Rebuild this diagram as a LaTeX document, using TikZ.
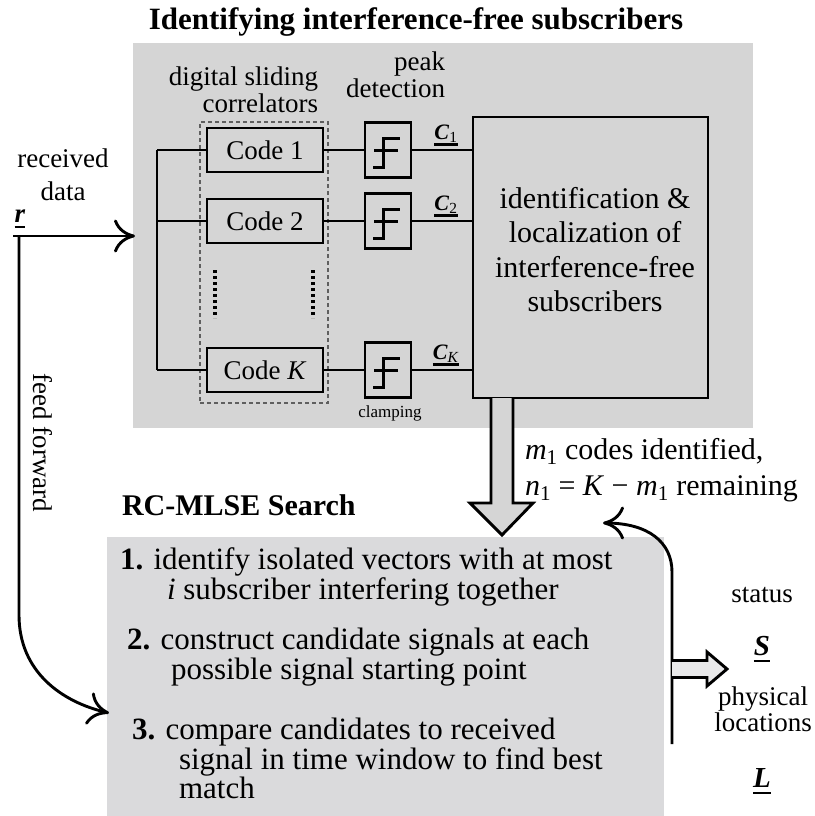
\documentclass[tikz,border=0pt]{standalone}
\usepackage{fontspec}
\setmainfont{Liberation Serif}
\usetikzlibrary{arrows.meta}
\definecolor{bgA}{RGB}{213,213,213}
\definecolor{bgB}{RGB}{218,218,220}
\definecolor{dashc}{RGB}{95,95,95}
\newcommand{\myfs}[2]{\fontsize{#1pt}{#2pt}\selectfont}
\newcommand{\ulbar}[2][-6pt]{\setbox0\hbox{#2}\rlap{\rule[#1]{\wd0}{2.4pt}}\box0}
\tikzset{
  wire/.style={line width=2.9pt},
  barbarrow/.style={-{Computer Modern Rightarrow[length=21pt,width=33pt,line width=2.9pt]}},
  codebox/.style={draw, line width=2.9pt, minimum width=116pt, minimum height=44pt, inner sep=0pt, font=\myfs{27}{30}},
  pkbox/.style={draw, line width=2.9pt, minimum width=46pt, minimum height=55pt, inner sep=0pt},
  lbl/.style={inner sep=0pt, outer sep=0pt, font=\myfs{27}{30}},
  hollow/.style={draw=black, line width=2.9pt, line join=miter},
  stepsym/.pic={
    \draw[line width=3pt] (-15,17) -- (-5,17) -- (-5,-12) -- (12,-12);
    \draw[line width=3pt] (-14,0) -- (10,0);
  }
}
\begin{document}
\begin{tikzpicture}[x=1pt,y=-1pt]
\useasboundingbox (0,0) rectangle (814,816);
% background panels
\node[fill=bgA, minimum width=620pt, minimum height=385pt, inner sep=0pt, outer sep=0pt] (topbg) at (443,235.5) {};
\node[fill=bgB, minimum width=557pt, minimum height=279pt, inner sep=0pt, outer sep=0pt] (lowbg) at (385.5,676.5) {};

% title
\node[lbl, anchor=base, font=\bfseries\myfs{31}{34}] (title) at (416,30) {Identifying interference-free subscribers};

% group labels
\node[lbl, anchor=base east, font=\myfs{27}{25}] (dsc) at (318,112) {\begin{tabular}[b]{@{}r@{}}digital sliding\\correlators\end{tabular}};
\node[lbl, anchor=base east, font=\myfs{27}{25}] (pd) at (445,97) {\begin{tabular}[b]{@{}r@{}}peak\\detection\end{tabular}};
\node[lbl, anchor=base, font=\myfs{27}{33}] (rd) at (63,200) {\begin{tabular}[b]{@{}c@{}}received\\data\end{tabular}};

% correlator group (dashed)
\node[draw=dashc, line width=1.4pt, dash pattern=on 4pt off 3pt, minimum width=128pt, minimum height=281pt, inner sep=0pt] (corr) at (264,262.5) {};

% code boxes
\node[codebox] (c1) at (265,150) {Code 1};
\node[codebox] (c2) at (265,221) {Code 2};
\node[codebox] (cK) at (265,370) {Code \textit{K}};
\draw[line width=3.5pt, dash pattern=on 2.5pt off 3.5pt] (215,270) -- (215,318);
\draw[line width=3.5pt, dash pattern=on 2.5pt off 3.5pt] (313,270) -- (313,318);

% peak detectors
\node[pkbox] (p1) at (388,150) {};
\node[pkbox] (p2) at (388,221) {};
\node[pkbox] (pK) at (388,370) {};
\pic at (p1) {stepsym};
\pic at (p2) {stepsym};
\pic at (pK) {stepsym};
\node[lbl, anchor=base, font=\myfs{17}{20}] (clamp) at (390,417) {clamping};

% identification box
\node[draw, line width=2.9pt, minimum width=235pt, minimum height=281pt, inner sep=0pt] (id) at (590.5,257.5) {};
\node[lbl, anchor=base, font=\myfs{30}{34.5}] (idtext) at (595,208) {\begin{tabular}[t]{@{}c@{}}identification \&\\localization of\\interference-free\\subscribers\end{tabular}};

% bus and wires
\coordinate (b1) at (157,150);
\coordinate (b2) at (157,221);
\coordinate (bK) at (157,370);
\draw[wire] (b1) -- (bK);
\draw[wire] (b1) -- (c1);
\draw[wire] (b2) -- (c2);
\draw[wire] (bK) -- (cK);
\draw[wire] (c1) -- (p1);
\draw[wire] (c2) -- (p2);
\draw[wire] (cK) -- (pK);
\draw[wire] (p1) -- (p1 -| id.west);
\draw[wire] (p2) -- (p2 -| id.west);
\draw[wire] (pK) -- (pK -| id.west);
\node[lbl, anchor=base, font=\myfs{22}{24}] (cl1) at (446,139) {\ulbar[-6.5pt]{\textbf{\textit{C}}\textsubscript{1}}};
\node[lbl, anchor=base, font=\myfs{22}{24}] (cl2) at (446,210) {\ulbar[-6.5pt]{\textbf{\textit{C}}\textsubscript{2}}};
\node[lbl, anchor=base, font=\myfs{22}{24}] (clK) at (446,359) {\ulbar[-6.5pt]{\textbf{\textit{C}}\textsubscript{\textit{K}}}};

% received data input
\node[lbl, anchor=base, font=\myfs{27}{30}] (r) at (20,222) {\ulbar[-6pt]{\textbf{\textit{r}}}};
\coordinate (rs) at (13,236);
\coordinate (rj) at (19,236);
\coordinate (rin) at (135,236);
\draw[wire, barbarrow] (rs) -- (rin);
\coordinate (ffend) at (109,713);
\draw[wire, barbarrow] (rj) -- (19,615) .. controls (19,672) and (62,702) .. (ffend);
\node[lbl, rotate=-90, font=\myfs{27}{30}] (ff) at (43,443) {feed forward};

% hollow down arrow
\fill[bgA] (491,398) -- (491,503) -- (470,503) -- (502,535) -- (533,503) -- (513,503) -- (513,398) -- cycle;
\draw[hollow] (491,398) -- (491,503) -- (470,503) -- (502,535) -- (533,503) -- (513,503) -- (513,398);

\node[lbl, anchor=base west, font=\myfs{30}{36}] (mtext) at (525,459) {\begin{tabular}[t]{@{}l@{}}\textit{m}\textsubscript{1} codes identified,\\\textit{n}\textsubscript{1} = \textit{K} − \textit{m}\textsubscript{1} remaining\end{tabular}};

% RC-MLSE search
\node[lbl, anchor=base west, font=\bfseries\myfs{30}{34}] (rc) at (122,515) {RC-MLSE Search};
\node[lbl, anchor=base west, font=\myfs{31}{29}] (s1) at (120,569) {\begin{tabular}[t]{@{}l@{}}\textbf{1.} identify isolated vectors with at most\\\hspace*{47pt}\textit{i} subscriber interfering together\end{tabular}};
\node[lbl, anchor=base west, font=\myfs{31}{29}] (s2) at (127,649) {\begin{tabular}[t]{@{}l@{}}\textbf{2.} construct candidate signals at each\\\hspace*{44pt}possible signal starting point\end{tabular}};
\node[lbl, anchor=base west, font=\myfs{31}{27.5}] (s3) at (132,739) {\begin{tabular}[t]{@{}l@{}}\textbf{3.} compare candidates to received\\\hspace*{47pt}signal in time window to find best\\\hspace*{47pt}match\end{tabular}};

% feedback loop and outputs
\coordinate (fbs) at (672,744);
\coordinate (fbe) at (603,523);
\draw[wire, barbarrow] (fbs) -- (672,572) .. controls (672,542) and (648,523) .. (fbe);
\fill[bgB!60!white] (672,660.5) -- (707,660.5) -- (707,652) -- (727,669) -- (707,686) -- (707,677.5) -- (672,677.5) -- cycle;
\draw[hollow] (672,660.5) -- (707,660.5) -- (707,652) -- (727,669) -- (707,686) -- (707,677.5) -- (672,677.5);

\node[lbl, anchor=base, font=\myfs{27}{30}] (st) at (762,602) {status};
\node[lbl, anchor=base, font=\myfs{29}{30}] (S) at (762,655) {\ulbar[-7pt]{\textbf{\textit{S}}}};
\node[lbl, anchor=base, font=\myfs{27}{22}] (pl) at (763,731) {\begin{tabular}[b]{@{}c@{}}physical\\locations\end{tabular}};
\node[lbl, anchor=base, font=\myfs{29}{30}] (L) at (762,787) {\ulbar[-7pt]{\textbf{\textit{L}}}};
\end{tikzpicture}
\end{document}
